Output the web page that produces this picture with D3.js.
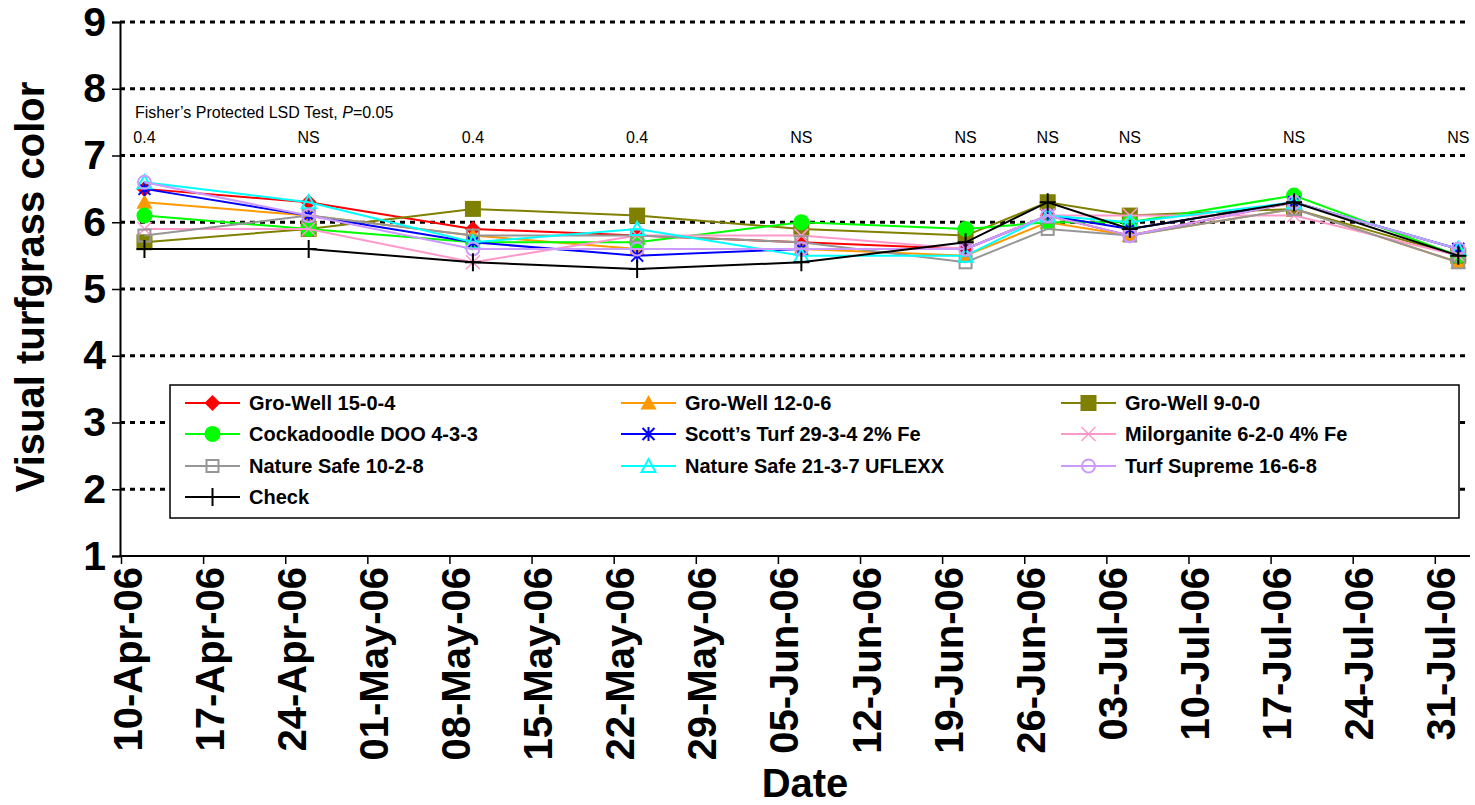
<!DOCTYPE html>
<html>
<head>
<meta charset="utf-8">
<script src="https://cdn.jsdelivr.net/npm/d3@7"></script>
<style>
  body { margin: 0; background: #fff; }
  svg { display: block; font-family: "Liberation Sans", Arial, sans-serif; }
</style>
</head>
<body>
<div id="chart"></div>
<script>
// rating dates
const dates = ["2006-04-12", "2006-04-26", "2006-05-10", "2006-05-24", "2006-06-07",
               "2006-06-21", "2006-06-28", "2006-07-05", "2006-07-19", "2006-08-02"];
const lsdLabels = ["0.4", "NS", "0.4", "0.4", "NS", "NS", "NS", "NS", "NS", "NS"];

const groWell1504   = [6.5, 6.3, 5.9, 5.8, 5.7, 5.6, 6.1, 5.8, 6.3, 5.6];
const groWell1206   = [6.3, 6.1, 5.8, 5.6, 5.6, 5.5, 6.0, 5.8, 6.2, 5.4];
const groWell900    = [5.7, 5.9, 6.2, 6.1, 5.9, 5.8, 6.3, 6.1, 6.2, 5.5];
const cockadoodle   = [6.1, 5.9, 5.7, 5.7, 6.0, 5.9, 6.0, 6.0, 6.4, 5.5];
const scottsTurf    = [6.5, 6.1, 5.7, 5.5, 5.6, 5.6, 6.1, 5.9, 6.3, 5.6];
const milorganite   = [5.9, 5.9, 5.4, 5.8, 5.8, 5.6, 6.1, 6.1, 6.1, 5.5];
const natureSafe1028 = [5.8, 6.1, 5.8, 5.8, 5.7, 5.4, 5.9, 5.8, 6.2, 5.4];
const natureSafe2137 = [6.6, 6.3, 5.7, 5.9, 5.5, 5.5, 6.1, 6.0, 6.3, 5.6];
const turfSupreme   = [6.6, 6.1, 5.6, 5.6, 5.6, 5.6, 6.1, 5.8, 6.3, 5.6];
const check         = [5.6, 5.6, 5.4, 5.3, 5.4, 5.7, 6.3, 5.9, 6.3, 5.5];

const series = [
  { name: "Gro-Well 15-0-4", values: groWell1504, color: "#ff0000", marker: "diamond" },
  { name: "Gro-Well 12-0-6", values: groWell1206, color: "#ff9900", marker: "triangle" },
  { name: "Gro-Well 9-0-0", values: groWell900, color: "#808000", marker: "square" },
  { name: "Cockadoodle DOO 4-3-3", values: cockadoodle, color: "#00ff00", marker: "circle" },
  { name: "Scott\u2019s Turf 29-3-4 2% Fe", values: scottsTurf, color: "#0000ff", marker: "star" },
  { name: "Milorganite 6-2-0 4% Fe", values: milorganite, color: "#ff99cc", marker: "x" },
  { name: "Nature Safe 10-2-8", values: natureSafe1028, color: "#969696", marker: "openSquare" },
  { name: "Nature Safe 21-3-7 UFLEXX", values: natureSafe2137, color: "#00ffff", marker: "openTriangle" },
  { name: "Turf Supreme 16-6-8", values: turfSupreme, color: "#cc99ff", marker: "openCircle" },
  { name: "Check", values: check, color: "#000000", marker: "plus" }
];

const W = 1475, H = 805;
const parse = d3.utcParse("%Y-%m-%d");

const svg = d3.select("#chart").append("svg")
  .attr("width", W)
  .attr("height", H);

const x = d3.scaleUtc()
  .domain([Date.UTC(2006, 3, 10), Date.UTC(2006, 7, 3)])
  .range([121, 1470]);

const y = d3.scaleLinear()
  .domain([1, 9])
  .range([556, 22]);

// dotted gridlines
svg.append("g")
  .selectAll("line")
  .data(d3.range(2, 10))
  .join("line")
  .attr("x1", 120).attr("x2", 1470)
  .attr("y1", d => y(d)).attr("y2", d => y(d))
  .attr("stroke", "#000")
  .attr("stroke-width", 3)
  .attr("stroke-dasharray", "5,5");

// y axis
const yAxis = svg.append("g")
  .attr("transform", "translate(120,0)")
  .call(d3.axisLeft(y).tickValues(d3.range(1, 10)).tickFormat(d3.format("d")).tickSize(8).tickPadding(6));
yAxis.select(".domain").attr("stroke-width", 2);
yAxis.selectAll("line").attr("stroke-width", 1.5);
yAxis.selectAll("text")
  .attr("font-size", 41)
  .attr("font-weight", "bold")
  .attr("font-family", "'Liberation Sans', Arial, sans-serif");

// x axis
const xAxis = svg.append("g")
  .attr("transform", "translate(0,556)")
  .call(d3.axisBottom(x).ticks(d3.utcMonday.every(1)).tickFormat(d3.utcFormat("%d-%b-%y")).tickSize(8).tickSizeOuter(0));
xAxis.select(".domain").attr("stroke-width", 2).attr("d", "M119,0H1470");
xAxis.selectAll("line").attr("stroke-width", 1.5);
xAxis.selectAll("text")
  .attr("font-size", 40)
  .attr("font-weight", "bold")
  .attr("font-family", "'Liberation Sans', Arial, sans-serif")
  .attr("text-anchor", "end")
  .attr("transform", "rotate(-90)")
  .attr("x", -11)
  .attr("y", 6)
  .attr("dy", "0.35em");

// axis titles
svg.append("text")
  .attr("transform", "translate(44,287) rotate(-90)")
  .attr("text-anchor", "middle")
  .attr("font-size", 40)
  .attr("font-weight", "bold")
  .text("Visual turfgrass color");

svg.append("text")
  .attr("x", 805).attr("y", 797)
  .attr("text-anchor", "middle")
  .attr("font-size", 40)
  .attr("font-weight", "bold")
  .text("Date");

// LSD annotation
const lsdTitle = svg.append("text")
  .attr("x", 135).attr("y", 118)
  .attr("font-size", 16)
  .attr("font-family", "'Liberation Sans Narrow', 'Arial Narrow', sans-serif");
lsdTitle.append("tspan").text("Fisher\u2019s Protected LSD Test, ");
lsdTitle.append("tspan").attr("font-style", "italic").text("P");
lsdTitle.append("tspan").text("=0.05");

svg.append("g")
  .selectAll("text")
  .data(dates)
  .join("text")
  .attr("x", d => x(parse(d)))
  .attr("y", 143)
  .attr("text-anchor", "middle")
  .attr("font-size", 16)
  .attr("font-family", "'Liberation Sans Narrow', 'Arial Narrow', sans-serif")
  .text((d, i) => lsdLabels[i]);

// marker drawing
function drawMarker(g, type, color) {
  const s = 8;
  switch (type) {
    case "diamond":
      g.append("path").attr("d", `M0,${-s}L${s},0L0,${s}L${-s},0Z`).attr("fill", color);
      break;
    case "triangle":
      g.append("path").attr("d", `M0,${-s}L${s},${s * 0.8}L${-s},${s * 0.8}Z`).attr("fill", color);
      break;
    case "square":
      g.append("rect").attr("x", -s).attr("y", -s).attr("width", 2 * s).attr("height", 2 * s).attr("fill", color);
      break;
    case "circle":
      g.append("circle").attr("r", s).attr("fill", color);
      break;
    case "star":
      g.append("path")
        .attr("d", "M-6,-6L6,6M-6,6L6,-6M0,-7L0,7")
        .attr("stroke", color).attr("stroke-width", 2).attr("fill", "none");
      break;
    case "x":
      g.append("path")
        .attr("d", "M-7,-7L7,7M-7,7L7,-7")
        .attr("stroke", color).attr("stroke-width", 1.5).attr("fill", "none");
      break;
    case "openSquare":
      g.append("rect").attr("x", -6).attr("y", -6).attr("width", 12).attr("height", 12)
        .attr("fill", "none").attr("stroke", color).attr("stroke-width", 2);
      break;
    case "openTriangle":
      g.append("path").attr("d", "M0,-7L7,6L-7,6Z")
        .attr("fill", "none").attr("stroke", color).attr("stroke-width", 2);
      break;
    case "openCircle":
      g.append("circle").attr("r", 6.5)
        .attr("fill", "none").attr("stroke", color).attr("stroke-width", 2);
      break;
    case "plus":
      g.append("path")
        .attr("d", "M-8,0L8,0M0,-9L0,9")
        .attr("stroke", color).attr("stroke-width", 2).attr("fill", "none");
      break;
  }
}

const line = d3.line()
  .x(d => x(d.date))
  .y(d => y(d.value));

// series
series.forEach(s => {
  const pts = s.values.map((v, i) => ({ date: parse(dates[i]), value: v }));
  const g = svg.append("g");
  g.append("path")
    .datum(pts)
    .attr("d", line)
    .attr("fill", "none")
    .attr("stroke", s.color)
    .attr("stroke-width", 2);
  g.selectAll("g.m")
    .data(pts)
    .join("g")
    .attr("class", "m")
    .attr("transform", d => `translate(${x(d.date)},${y(d.value)})`)
    .each(function () { drawMarker(d3.select(this), s.marker, s.color); });
});

// legend
const legend = svg.append("g");
legend.append("rect")
  .attr("x", 170).attr("y", 385)
  .attr("width", 1289).attr("height", 133)
  .attr("fill", "#fff")
  .attr("stroke", "#000")
  .attr("stroke-width", 1.5);

const colX = [185, 621, 1061];
const rowY = [403, 434, 466, 497];

series.forEach((s, i) => {
  const cx = colX[i % 3], cy = rowY[Math.floor(i / 3)];
  const item = legend.append("g").attr("transform", `translate(${cx},${cy})`);
  item.append("line")
    .attr("x1", 0).attr("x2", 55)
    .attr("stroke", s.color).attr("stroke-width", 2);
  const m = item.append("g").attr("transform", "translate(27.5,0)");
  drawMarker(m, s.marker, s.color);
  item.append("text")
    .attr("x", 64).attr("y", 0)
    .attr("dy", "0.35em")
    .attr("font-size", 20)
    .attr("font-weight", "bold")
    .text(s.name);
});
</script>
</body>
</html>
